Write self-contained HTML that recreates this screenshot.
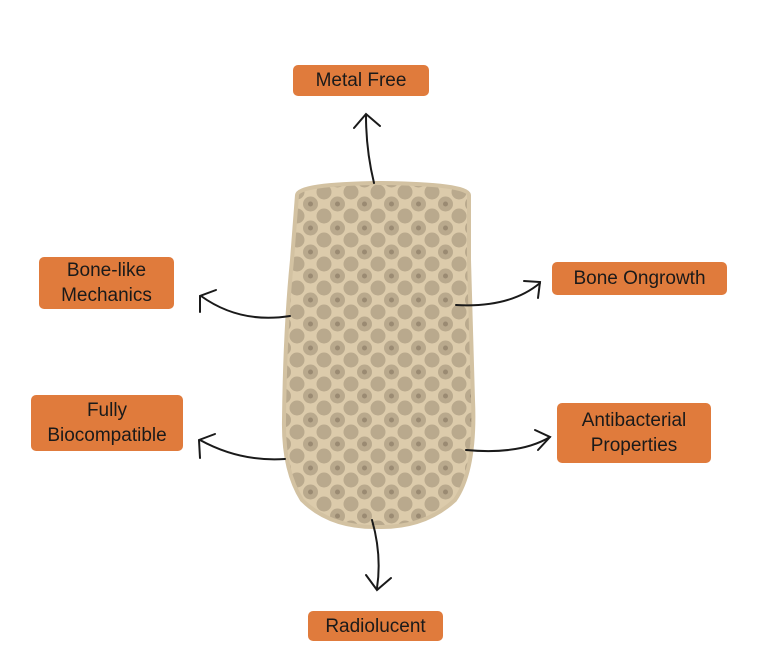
<!DOCTYPE html>
<html><head><style>
body{margin:0;width:778px;height:662px;background:#fff;position:relative;overflow:hidden;font-family:"Liberation Sans",sans-serif}
.b{position:absolute;background:#e07b3c;border-radius:5px;color:#1a1a1a;font-size:19px;line-height:25px;text-align:center;display:flex;align-items:center;justify-content:center}
</style></head><body>
<svg width="778" height="662" style="position:absolute;left:0;top:0">
<defs>
<pattern id="hx" width="27" height="24" patternUnits="userSpaceOnUse">
<rect width="27" height="24" fill="#dccbab"/>
<circle cx="13.5" cy="12" r="7.5" fill="#b9a98d"/>
<circle cx="0" cy="0" r="7.5" fill="#b9a98d"/>
<circle cx="27" cy="0" r="7.5" fill="#b9a98d"/>
<circle cx="0" cy="24" r="7.5" fill="#b9a98d"/>
<circle cx="27" cy="24" r="7.5" fill="#b9a98d"/>
<circle cx="13.5" cy="12" r="2.5" fill="#9a8a72"/>
</pattern>
</defs>
<path d="M297 195 Q298 184 380 183 Q468 184 469 195 L469 260 Q471 330 473 400 Q476 470 455 500 Q425 528 378 527 Q330 528 302 500 Q283 470 284 420 Q285 330 292 260 Z" fill="url(#hx)" stroke="#d3c2a2" stroke-width="4"/>
<g fill="none" stroke="#1a1a1a" stroke-width="2" stroke-linecap="round">
<path d="M374 183 Q366 150 366 116"/><path d="M354 128 L366 114 L380 126"/>
<path d="M290 316 Q240 324 201 296"/><path d="M216 290 L200 296 L200 312"/>
<path d="M285 459 Q240 462 200 440"/><path d="M215 434 L199 440 L200 458"/>
<path d="M456 305 Q510 308 540 283"/><path d="M524 281 L540 282 L538 298"/>
<path d="M466 450 Q520 455 550 437"/><path d="M535 430 L550 437 L538 450"/>
<path d="M372 520 Q382 555 377 588"/><path d="M366 575 L377 590 L391 578"/>
</g>
</svg>
<div class="b" style="left:293px;top:65px;width:136px;height:31px">Metal Free</div>
<div class="b" style="left:39px;top:257px;width:135px;height:52px">Bone-like<br>Mechanics</div>
<div class="b" style="left:31px;top:395px;width:152px;height:56px">Fully<br>Biocompatible</div>
<div class="b" style="left:552px;top:262px;width:175px;height:33px">Bone Ongrowth</div>
<div class="b" style="left:557px;top:403px;width:154px;height:60px">Antibacterial<br>Properties</div>
<div class="b" style="left:308px;top:611px;width:135px;height:30px">Radiolucent</div>
</body></html>
